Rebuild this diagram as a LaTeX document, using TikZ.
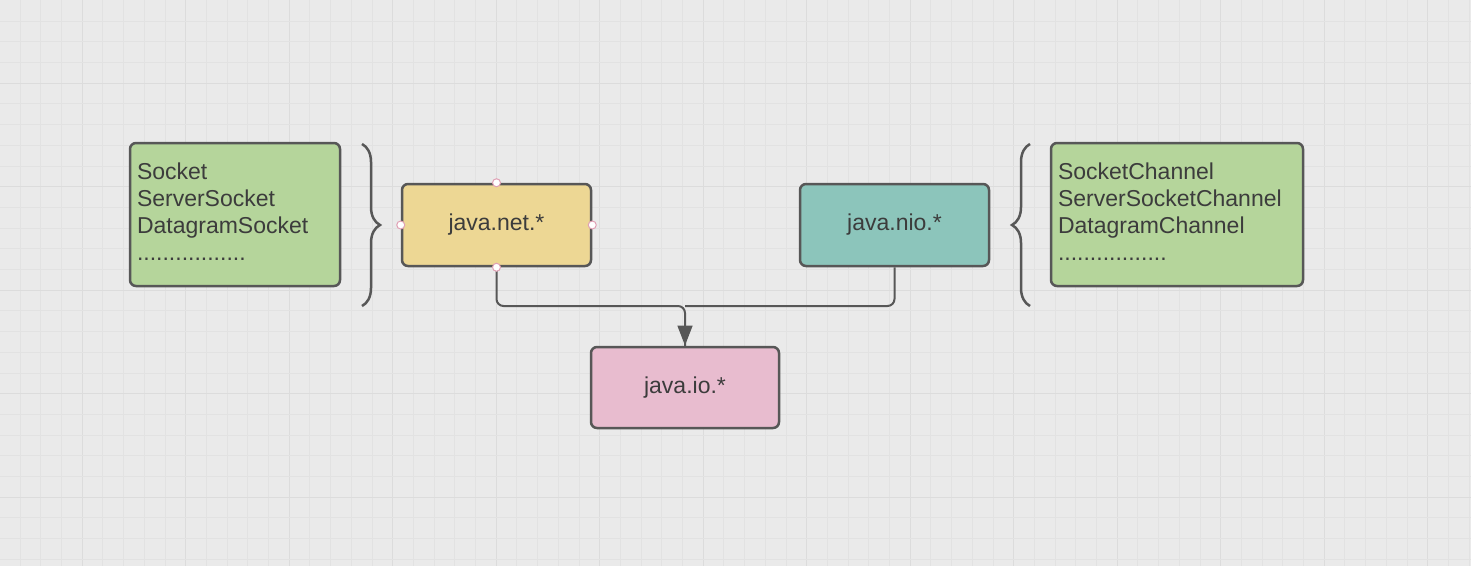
\documentclass[tikz,border=0pt]{standalone}
\usepackage{fontspec}
\setmainfont{Liberation Sans}
\usetikzlibrary{arrows.meta,decorations.pathreplacing}
\definecolor{bgc}{HTML}{EAEAEA}
\definecolor{gridminor}{HTML}{E2E2E2}
\definecolor{gridmajor}{HTML}{DCDCDC}
\definecolor{edgec}{HTML}{575757}
\definecolor{txtc}{HTML}{3C3C3C}
\definecolor{greenf}{HTML}{B5D59B}
\definecolor{yellowf}{HTML}{EDD794}
\definecolor{tealf}{HTML}{8CC5BB}
\definecolor{pinkf}{HTML}{E8BCCF}
\definecolor{handlec}{HTML}{E0A0B4}
\begin{document}
\begin{tikzpicture}[x=1pt,y=-1pt,
  box/.style={draw=edgec,line width=2.5pt,rounded corners=6pt,text=txtc,
    font=\fontsize{23}{27}\selectfont,inner sep=0pt},
  listbox/.style={box,fill=greenf,align=left,inner xsep=7pt},
  conn/.style={draw=edgec,line width=2pt,rounded corners=7pt},
  bracec/.style={draw=edgec,line width=2.5pt,decorate,
    decoration={brace,amplitude=18pt}},
  handle/.style={circle,draw=handlec,fill=white,line width=1pt,minimum size=8pt,inner sep=0pt}]
\useasboundingbox (0,0) rectangle (1471,566);
\fill[bgc] (0,0) rectangle (1471,566);
\begin{scope}
\clip (0,0) rectangle (1471,566);
\foreach \k in {0,...,71}{
  \pgfmathtruncatemacro{\m}{mod(\k,5)}
  \ifnum\m=3
    \draw[gridmajor,line width=1pt] ({20+20.7*\k},0) -- ({20+20.7*\k},566);
  \else
    \draw[gridminor,line width=0.8pt] ({20+20.7*\k},0) -- ({20+20.7*\k},566);
  \fi}
\foreach \k in {0,...,27}{
  \pgfmathtruncatemacro{\m}{mod(\k,5)}
  \ifnum\m=3
    \draw[gridmajor,line width=1pt] (0,{21+20.7*\k}) -- (1471,{21+20.7*\k});
  \else
    \draw[gridminor,line width=0.8pt] (0,{21+20.7*\k}) -- (1471,{21+20.7*\k});
  \fi}
\end{scope}

\node[listbox,minimum width=210pt,minimum height=143pt,text width=196pt] (lst) at (235,214.5)
  {Socket\\ServerSocket\\DatagramSocket\\.................\vspace*{6pt}};
\node[listbox,minimum width=252pt,minimum height=143pt,text width=238pt] (rst) at (1177,214.5)
  {SocketChannel\\ServerSocketChannel\\DatagramChannel\\.................\vspace*{6pt}};
\node[box,fill=yellowf,minimum width=189pt,minimum height=82pt] (net) at (496.5,225) {java.net.*};
\node[box,fill=tealf,minimum width=189pt,minimum height=82pt] (nio) at (894.5,225) {java.nio.*};
\node[box,fill=pinkf,minimum width=188pt,minimum height=81pt] (io) at (685,387.5) {java.io.*};

\coordinate (j) at (685,306);
\draw[conn] (net.south) |- (j) -- ([yshift=-1pt]io.north);
\draw[conn] (nio.south) |- (j);
\draw[draw=edgec,fill=edgec,line width=1pt] (678,326) -- (692,326) -- (685,344) -- cycle;

\draw[bracec] (362,144) -- (362,306);
\draw[bracec] (1030,306) -- (1030,144);

\node[handle] at (net.north) {};
\node[handle] at (net.south) {};
\node[handle] at (net.east) {};
\node[handle] at (net.west) {};
\end{tikzpicture}
\end{document}
